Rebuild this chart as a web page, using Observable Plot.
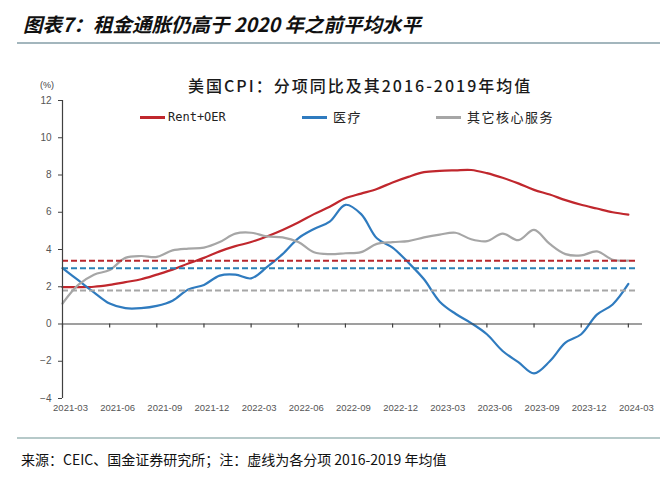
<!DOCTYPE html>
<html><head><meta charset="utf-8">
<script src="https://cdn.jsdelivr.net/npm/d3@7"></script>
<script src="https://cdn.jsdelivr.net/npm/@observablehq/plot@0.6"></script>
<style>
body{margin:0;background:#fff;width:660px;height:477px;position:relative;overflow:hidden;font-family:"Noto Sans CJK SC",sans-serif;color:#111;}
.abs{position:absolute;white-space:nowrap;line-height:1;}
#title{left:23px;top:14px;font-size:19.5px;font-weight:bold;font-style:italic;}
#rule1{left:17px;top:42px;width:643px;height:2px;background:#a3b6bd;}
#rule2{left:17px;top:437px;width:643px;height:2px;background:#b6c9c9;}
#foot{left:21px;top:452px;font-size:14px;}
#chart{left:0;top:50px;}
#ctitle{left:188px;top:77px;font-size:16px;letter-spacing:2px;color:#1a1a1a;font-weight:500;}
#ylab{left:40px;top:81px;font-size:9px;color:#404040;font-family:"Liberation Sans",sans-serif;}
.sw{position:absolute;height:2.5px;width:25px;top:116px;}
.lg{top:110px;font-size:13px;color:#222;}
#lg1{font-family:"DejaVu Sans Mono",monospace;font-size:12px;top:111px;}
</style></head>
<body>
<div id="title" class="abs">图表7：租金通胀仍高于 2020 年之前平均水平</div>
<div id="rule1" class="abs"></div>
<div id="chart" class="abs"></div>
<div id="ctitle" class="abs">美国CPI：分项同比及其2016-2019年均值</div>
<div id="ylab" class="abs">(%)</div>
<div class="sw" style="left:140px;background:#c0272d"></div>
<div id="lg1" class="abs lg" style="left:168px">Rent+OER</div>
<div class="sw" style="left:302px;background:#2f7bbf"></div>
<div class="abs lg" style="left:333px;letter-spacing:1.5px">医疗</div>
<div class="sw" style="left:436px;background:#a6a6a6"></div>
<div class="abs lg" style="left:467px;letter-spacing:1.5px">其它核心服务</div>
<div id="rule2" class="abs"></div>
<div id="foot" class="abs">来源：CEIC、国金证券研究所；注：虚线为各分项 2016-2019 年均值</div>
<script>
const months = ["2021-03","2021-04","2021-05","2021-06","2021-07","2021-08","2021-09","2021-10","2021-11","2021-12",
"2022-01","2022-02","2022-03","2022-04","2022-05","2022-06","2022-07","2022-08","2022-09","2022-10","2022-11","2022-12",
"2023-01","2023-02","2023-03","2023-04","2023-05","2023-06","2023-07","2023-08","2023-09","2023-10","2023-11","2023-12",
"2024-01","2024-02","2024-03"];
const rentOER = [1.98,1.98,2.0,2.1,2.25,2.4,2.65,2.92,3.25,3.55,3.9,4.18,4.4,4.7,5.05,5.45,5.9,6.3,6.75,7.0,7.25,7.6,7.9,8.15,8.22,8.25,8.27,8.1,7.85,7.55,7.2,6.95,6.65,6.4,6.2,6.0,5.87];
const medical = [3.0,2.35,1.7,1.1,0.85,0.85,0.97,1.25,1.85,2.1,2.6,2.65,2.45,3.05,3.75,4.6,5.1,5.5,6.4,5.9,4.6,4.1,3.3,2.4,1.2,0.55,0.05,-0.55,-1.45,-2.05,-2.65,-2.0,-1.0,-0.55,0.5,1.05,2.15];
const otherCore = [1.1,2.1,2.65,2.9,3.55,3.65,3.6,3.95,4.05,4.1,4.4,4.85,4.9,4.7,4.65,4.4,3.85,3.75,3.8,3.86,4.3,4.4,4.45,4.65,4.8,4.9,4.55,4.45,4.85,4.5,5.05,4.3,3.75,3.68,3.9,3.45,3.4];
const avgRent = 3.4, avgMedical = 3.0, avgOther = 1.8;
const xTickLabels = ["2021-03","2021-06","2021-09","2021-12","2022-03","2022-06","2022-09","2022-12","2023-03","2023-06","2023-09","2023-12","2024-03"];
const yTicks = [-4,-2,0,2,4,6,8,10,12];

const RED="#c0272d", BLUE="#2f7bbf", GRAY="#a6a6a6";
const rows = s => s.map((v,i)=>({i, m: months[i], v}));
const tickIdx = xTickLabels.map(l => months.indexOf(l));
const last = months.length - 1;

const chart = Plot.plot({
  width: 660, height: 380,
  marginLeft: 62, marginRight: 18, marginTop: 50, marginBottom: 32,
  style: {fontFamily: "Liberation Sans, Arial, sans-serif", color: "#404040", background: "transparent"},
  x: {type: "linear", domain: [0, last + 0.9], axis: null},
  y: {domain: [-4, 12], axis: null},
  marks: [
    Plot.line(rows(rentOER), {x: "i", y: "v", stroke: RED, strokeWidth: 2.2, curve: "catmull-rom"}),
    Plot.line(rows(medical), {x: "i", y: "v", stroke: BLUE, strokeWidth: 2.2, curve: "catmull-rom"}),
    Plot.line(rows(otherCore), {x: "i", y: "v", stroke: GRAY, strokeWidth: 2.2, curve: "catmull-rom"}),
    Plot.ruleY([avgRent], {x1: 0, x2: last + 0.5, stroke: "#b8262c", strokeWidth: 2, strokeDasharray: "6,3"}),
    Plot.ruleY([avgMedical], {x1: 0, x2: last + 0.5, stroke: "#2a80b5", strokeWidth: 2, strokeDasharray: "6,3"}),
    Plot.ruleY([avgOther], {x1: 0, x2: last + 0.5, stroke: GRAY, strokeWidth: 2, strokeDasharray: "6,3"}),
    Plot.ruleY([0], {stroke: "#404040", strokeWidth: 1.2}),
    Plot.ruleX([0], {stroke: "#404040", strokeWidth: 1.2}),
    Plot.ruleX(tickIdx, {x: d => d, y1: 0, y2: -0.22, stroke: "#404040", strokeWidth: 1.2}),
    Plot.axisY({ticks: yTicks, tickSize: 4, tickPadding: 7, fontSize: 10, label: null, stroke: "#404040", fill: "#555"}),
    Plot.axisX({ticks: tickIdx, tickFormat: i => months[i], tickSize: 0, tickPadding: 6, dx: 8, fontSize: 9.5, label: null, fill: "#555"})
  ]
});
document.getElementById("chart").appendChild(chart);
</script>
</body></html>
